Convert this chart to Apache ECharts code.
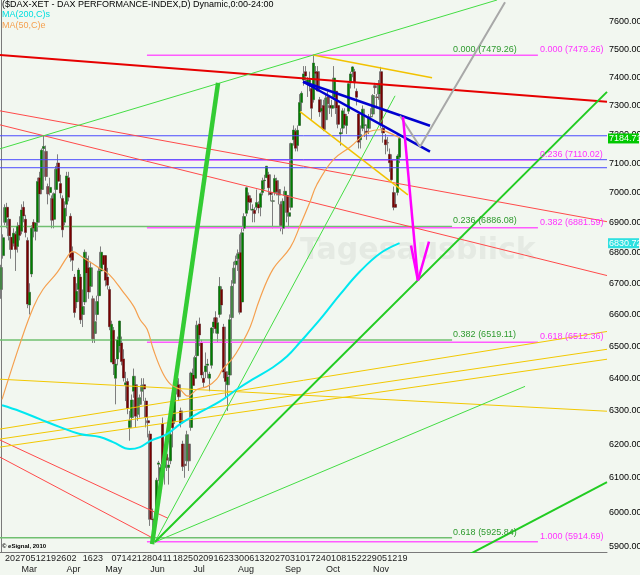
<!DOCTYPE html>
<html><head><meta charset="utf-8">
<script src="https://cdn.jsdelivr.net/npm/echarts@6/dist/echarts.min.js"></script>
<style>html,body{margin:0;padding:0;background:#F2F7F0;}#c{width:640px;height:575px;}</style>
</head><body><div id="c"></div>
<script>
// ---------- categories (trading days) ----------
const holidays = ['2012-04-06','2012-04-09','2012-05-01'];
const futureSlots = 101;
function buildDates(){
  const out=[]; let d=new Date(Date.UTC(2012,1,16)); const end=new Date(Date.UTC(2012,10,20));
  const fmt=x=>x.toISOString().slice(0,10);
  while(d<=end){const wd=d.getUTCDay(),s=fmt(d); if(wd!==0&&wd!==6&&!holidays.includes(s)) out.push(s); d=new Date(d.getTime()+86400000);}
  let n=0; while(n<futureSlots){const wd=d.getUTCDay(); if(wd!==0&&wd!==6){out.push(fmt(d));n++;} d=new Date(d.getTime()+86400000);}
  return out;
}
const dates = buildDates();

// ---------- tick labels ----------
const dayTicks = ['2012-02-20','2012-02-27','2012-03-05','2012-03-12','2012-03-19','2012-03-26','2012-04-02','2012-04-16','2012-04-23','2012-05-07','2012-05-14','2012-05-21','2012-05-28','2012-06-04','2012-06-11','2012-06-18','2012-06-25','2012-07-02','2012-07-09','2012-07-16','2012-07-23','2012-07-30','2012-08-06','2012-08-13','2012-08-20','2012-08-27','2012-09-03','2012-09-10','2012-09-17','2012-09-24','2012-10-01','2012-10-08','2012-10-15','2012-10-22','2012-10-29','2012-11-05','2012-11-12','2012-11-19'];
const monthTicks = [['2012-03-01','Mar'],['2012-04-02','Apr'],['2012-05-02','May'],['2012-06-01','Jun'],['2012-07-02','Jul'],['2012-08-01','Aug'],['2012-09-03','Sep'],['2012-10-01','Oct'],['2012-11-01','Nov']];
const priceTicks = [5900,6000,6100,6200,6300,6400,6500,6600,6700,6800,6900,7000,7100,7200,7300,7400,7500,7600];

// ---------- daily OHLC: [open, high, low, close] ----------
const ohlc = [
[6680,6760,6650,6751],[6790,6860,6780,6849],[6900,6960,6890,6949],[6950,6965,6880,6917],[6910,6915,6840,6855],
[6850,6870,6780,6810],[6830,6880,6820,6864],[6860,6870,6740,6810],[6820,6900,6800,6887],[6890,6920,6840,6856],
[6870,6960,6860,6941],[6950,6970,6900,6921],[6910,6925,6850,6866],[6840,6850,6620,6633],[6630,6700,6600,6671],
[6730,6890,6720,6880],[6900,6910,6850,6880],[6870,6900,6840,6898],[6900,7050,6890,7037],[7050,7070,6970,6995],
[7010,7150,7000,7144],[7150,7194,7120,7157],[7140,7160,7040,7054],[7020,7030,6960,6995],[7000,7050,6990,7017],
[6980,6990,6880,6907],[6910,7000,6880,6996],[7010,7090,6990,7079],[7100,7130,7030,7038],[7030,7060,6980,6998],
[6980,6990,6850,6875],[6900,6970,6890,6947],[6960,7070,6920,7056],[7050,7070,6970,6984],[6920,6930,6770,6784],
[6800,6820,6740,6775],[6720,6730,6590,6606],[6640,6700,6620,6674],[6680,6750,6640,6743],[6720,6730,6570,6583],
[6600,6680,6560,6625],[6640,6810,6630,6801],[6780,6800,6710,6733],[6750,6790,6650,6672],[6690,6770,6680,6750],
[6650,6660,6510,6523],[6540,6600,6510,6577],[6600,6660,6580,6641],[6660,6750,6640,6740],[6740,6820,6720,6801],
[6790,6800,6740,6761],[6790,6790,6690,6710],[6720,6750,6680,6694],[6680,6690,6550,6561],[6450,6580,6450,6569],
[6550,6560,6410,6444],[6400,6460,6320,6444],[6460,6530,6440,6519],[6500,6580,6480,6579],[6510,6530,6440,6452],
[6460,6490,6390,6401],[6380,6420,6330,6386],[6390,6400,6290,6308],[6250,6300,6210,6271],[6280,6350,6250,6333],
[6360,6430,6340,6406],[6380,6390,6250,6284],[6290,6350,6270,6339],[6320,6350,6280,6340],[6360,6400,6340,6378],
[6380,6400,6330,6367],[6330,6340,6250,6281],[6270,6300,6220,6264],[6230,6240,5960,5979],[5980,6010,5914,5978],
[5980,6000,5930,5969],[5980,6100,5980,6093],[6140,6150,6090,6144],[6080,6140,6060,6130],[6260,6280,6120,6141],
[6130,6180,6080,6162],[6170,6200,6120,6152],[6130,6160,6080,6138],[6150,6240,6140,6229],[6300,6310,6190,6249],
[6270,6370,6260,6363],[6370,6410,6350,6392],[6380,6400,6330,6343],[6300,6310,6250,6263],[6200,6210,6120,6133],
[6140,6160,6100,6136],[6150,6240,6140,6228],[6200,6210,6120,6150],[6250,6420,6240,6416],[6410,6430,6360,6378],
[6400,6470,6390,6464],[6470,6580,6460,6566],[6570,6590,6500,6535],[6510,6520,6400,6410],[6400,6420,6370,6387],
[6420,6480,6400,6438],[6440,6460,6400,6444],[6400,6420,6360,6413],[6440,6560,6430,6557],[6560,6590,6540,6576],
[6590,6610,6540,6555],[6540,6590,6510,6574],[6600,6720,6590,6690],[6680,6690,6600,6630],[6560,6570,6400,6419],
[6420,6440,6340,6390],[6380,6420,6300,6404],[6410,6600,6400,6583],[6590,6710,6580,6690],[6700,6770,6690,6749],
[6760,6790,6740,6772],[6780,6810,6740,6796],[6800,6860,6600,6607],[6640,6880,6620,6865],[6880,6930,6870,6919],
[6930,7020,6920,7016],[6990,7000,6940,6967],[6980,6990,6940,6967],[6940,6960,6900,6944],[6940,6950,6900,6929],
[6950,7010,6940,6966],[6960,6970,6930,6948],[6950,7000,6920,6996],[7000,7050,6990,7040],[7040,7060,7010,7042],
[7050,7090,7050,7089],[7060,7070,6990,7016],[7000,7020,6970,6993],[6970,6990,6880,6972],[7000,7060,6990,7047],
[7040,7050,6990,7002],[7010,7020,6960,6991],[6960,6970,6870,6889],[6880,6980,6860,6970],[6990,7020,6960,7004],
[6990,7000,6900,6933],[6920,6960,6880,6932],[6950,7170,6940,7167],[7180,7230,7160,7214],[7210,7220,7140,7151],
[7160,7230,7140,7213],[7230,7340,7230,7310],[7310,7350,7280,7343],[7390,7440,7370,7412],[7420,7440,7380,7404],
[7380,7400,7330,7390],[7380,7420,7350,7390],[7360,7370,7250,7290],[7320,7479,7310,7451],[7420,7440,7370,7413],
[7420,7440,7350,7351],[7320,7330,7260,7277],[7280,7310,7220,7290],[7300,7320,7210,7216],[7250,7340,7240,7326],
[7330,7350,7280,7306],[7300,7330,7270,7292],[7290,7320,7260,7300],[7330,7440,7320,7397],[7350,7360,7270,7291],
[7300,7330,7220,7234],[7200,7220,7160,7205],[7220,7290,7200,7281],[7270,7290,7220,7232],[7230,7270,7200,7262],
[7280,7380,7270,7377],[7380,7420,7360,7412],[7420,7440,7400,7437],[7420,7430,7360,7380],[7350,7360,7300,7329],
[7270,7280,7150,7172],[7180,7230,7150,7198],[7220,7300,7210,7287],[7230,7260,7190,7232],[7210,7230,7180,7205],
[7220,7270,7200,7256],[7260,7290,7240,7261],[7270,7340,7260,7335],[7370,7380,7340,7363],[7330,7340,7290,7328],
[7340,7390,7320,7377],[7420,7437,7220,7232],[7220,7240,7170,7204],[7180,7200,7130,7163],[7170,7190,7140,7169],
[7130,7150,7070,7101],[7110,7130,7040,7043],[7000,7020,6940,6950],[6960,7000,6950,6950],[7000,7130,6990,7124],
[7120,7190,7100,7184.71]
];

// ---------- moving averages: [slot index, value] ----------
const ma200 = [[0.5,6317],[9.3,6299],[19,6275],[28.9,6251],[38.6,6230],[48.4,6221],[54.8,6206],[63.1,6185],[68,6191],[72.9,6209],[81.2,6230],[87.6,6260],[97.4,6296],[107.1,6329],[115.5,6366],[123.3,6397],[133.1,6434],[140,6468],[146.3,6512],[156.1,6584],[165.9,6664],[175.6,6738],[185.4,6797],[195,6831]];
const ma50 = [[0.5,6335],[10,6521],[16,6625],[20.5,6680],[27.5,6735],[32.5,6787],[35,6803],[40,6784],[47,6754],[53,6728],[60,6670],[65,6625],[68,6584],[71.5,6553],[74.5,6490],[79,6418],[83,6381],[87.5,6366],[91.5,6345],[96,6366],[101,6375],[105.5,6397],[108.5,6428],[113,6459],[117,6499],[122,6562],[126.5,6648],[133,6745],[141.5,6816],[146.5,6892],[151,6965],[154.5,7026],[162.5,7111],[171,7156],[179,7204],[185.5,7215],[190,7204],[195,7187]];

// ---------- drawn objects: [slot index, price] ----------
const redThick   = [[-0.5,7480],[296.5,7313]];
const redThinA   = [[-0.5,7281],[296.5,6902]];
const redThinB   = [[-0.5,7232],[296.5,6725]];
const redLowC    = [[-0.5,6212],[81.7,5982]];
const redLowD    = [[-0.5,6161],[75.3,5922]];
const greenTop   = [[-0.5,7149],[242.7,7681]];
const greenMain  = [[75.3,5914],[296.5,7348]];
const greenSteep = [[73.9,5908],[106.2,7380]];
const greenFanA  = [[75.3,5914],[192.8,7334]];
const greenFanC  = [[75.3,5914],[256.4,6375]];
const greenLow   = [[224.6,5865],[296.5,6087]];
const blueUpper  = [[147.8,7384],[209.9,7229]];
const blueLower  = [[147.8,7384],[209.9,7139]];
const blueLevels = [7194, 7111.5, 7084];
const yellowTop  = [[152.6,7480],[210.9,7398]];
const yellowBot  = [[146.3,7278],[199.1,6992]];
const yellowFan1 = [[-0.5,6245],[296.5,6546]];
const yellowFan2 = [[-0.5,6215],[296.5,6490]];
const yellowFan3 = [[-0.5,6191],[296.5,6459]];
const yellowFlat = [[-0.5,6397],[296.5,6299]];
const greyPath   = [[195.2,7264],[205,7156],[246.6,7673]];
const pinkArrow  = [[196.7,7260],[204,6709]];
const pinkHead   = [[200.6,6823],[204,6709],[209.4,6836]];

// ---------- Fibonacci levels ----------
const fibGreen   = [['0.000',7479.26],['0.236',6886.08],['0.382',6519.11],['0.618',5925.84]];
const fibMagenta = [['0.000',7479.26],['0.236',7110.02],['0.382',6881.59],['0.618',6512.36],['1.000',5914.69]];

// ---------- price markers ----------
const lastPrice = 7184.71;
const ma200Last = 6830.72;

// =====================================================
const N = dates.length;
const FONT = '"Liberation Sans", Arial, sans-serif';
const dayLabelSet = new Set(dayTicks);
const monthMap = Object.fromEntries(monthTicks);

function seg(data, color, width, z){
  return {type:'line', xAxisIndex:1, yAxisIndex:0, data, symbol:'none', silent:true, animation:false,
    lineStyle:{color, width}, z: z||4};
}
const series = [];
// candles: grey shadow/wick, then colored body
const cData = ohlc.map(r=>[r[0], r[3], r[2], r[1]]);
series.push({type:'candlestick', xAxisIndex:0, yAxisIndex:0, data:cData, barWidth:3, silent:true, z:2,
  itemStyle:{color:'#8c8c8c', color0:'#8c8c8c', borderColor:'#7e7e7e', borderColor0:'#7e7e7e', borderWidth:1}});
series.push({type:'candlestick', xAxisIndex:0, yAxisIndex:0, data:cData, barWidth:2.4, silent:true, z:3,
  itemStyle:{color:'#007f00', color0:'#7a0000', borderColor:'rgba(0,0,0,0)', borderColor0:'rgba(0,0,0,0)', borderWidth:0}});

// fib lines
const fibG0 = -0.5, fibG1 = 220.7, fibM0 = 71.4, fibM1 = 262.7;
fibGreen.slice(1).forEach(f=>series.push(seg([[fibG0,f[1]],[fibG1,f[1]]], '#70c070', 1.5, 3)));
fibMagenta.forEach(f=>series.push(seg([[fibM0,f[1]],[fibM1,f[1]]], '#ff5cff', 1.5, 3)));
// blue horizontals
blueLevels.forEach(v=>series.push(seg([[-0.5,v],[296.5,v]], '#4a4aff', 1, 4)));
// trend lines
series.push(seg(redThinA,'#ff4a4a',1));
series.push(seg(redThinB,'#ff4a4a',1));
series.push(seg(redLowC,'#ff4a4a',1));
series.push(seg(redLowD,'#ff4a4a',1));
series.push(seg(redThick,'#e60000',2));
series.push(seg(yellowFan1,'#f2c800',1));
series.push(seg(yellowFan2,'#f2c800',1));
series.push(seg(yellowFan3,'#f2c800',1));
series.push(seg(yellowFlat,'#f2c800',1));
series.push(seg(yellowTop,'#f2c200',1.5));
series.push(seg(yellowBot,'#f2c200',1.5));
series.push(seg(greenTop,'#44dd44',1));
series.push(seg(greenFanA,'#44dd44',1));
series.push(seg(greenFanC,'#44dd44',1));
series.push(seg(greenLow,'#22cc22',2));
series.push(seg(greenMain,'#22cc22',2));
series.push(seg(greenSteep,'#33cc33',4.5));
// moving averages
series.push(Object.assign(seg(ma50,'#f5a04f',1.2,5),{smooth:0.4}));
series.push(Object.assign(seg(ma200,'#00e8f0',2,5),{smooth:0.4}));
// flag lines and projections
series.push(seg(blueUpper,'#0000d0',2.5,6));
series.push(seg(blueLower,'#0000d0',2.5,6));
series.push(seg(greyPath,'#a8a8a8',2,6));
series.push(seg(pinkArrow,'#ff00ff',2.5,7));
series.push(seg(pinkHead,'#ff00ff',2.5,7));

// fib labels
function fibLabelSeries(list, xIdx, color){
  return {type:'custom', xAxisIndex:1, yAxisIndex:0, silent:true, clip:false, z:8, animation:false,
    data:list.map(f=>[xIdx,f[1]]),
    renderItem:(params, api)=>{
      const f = list[params.dataIndex];
      const p = api.coord([api.value(0), api.value(1)]);
      return {type:'text', x:p[0], y:p[1]-1, style:{text:f[0]+' ('+f[1].toFixed(2)+')', fill:color, font:'9px '+FONT, align:'left', verticalAlign:'bottom'}};
    }};
}
series.push(fibLabelSeries(fibGreen, 221.2, '#2f9a2f'));
series.push(fibLabelSeries(fibMagenta, 263.7, '#ff33ff'));

// right axis labels
series.push({type:'custom', xAxisIndex:1, yAxisIndex:0, silent:true, clip:false, z:8, animation:false,
  data:priceTicks.map(v=>[0,v]),
  renderItem:(params, api)=>{
    const cs = params.coordSys; const p = api.coord([0, api.value(1)]);
    return {type:'text', x:cs.x+cs.width+2, y:p[1], style:{text:api.value(1).toFixed(2), fill:'#000', font:'9px '+FONT, align:'left', verticalAlign:'middle'}};
  }});
// price markers
const markers = [[lastPrice,'#00c800'],[ma200Last,'#2ee0e0']];
series.push({type:'custom', xAxisIndex:1, yAxisIndex:0, silent:true, clip:false, z:9, animation:false,
  data:markers.map(m=>[0,m[0]]),
  renderItem:(params, api)=>{
    const cs = params.coordSys; const p = api.coord([0, api.value(1)]);
    const m = markers[params.dataIndex];
    return {type:'group', children:[
      {type:'rect', shape:{x:cs.x+cs.width+1, y:p[1]-5, width:31, height:10}, style:{fill:m[1]}},
      {type:'text', x:cs.x+cs.width+2, y:p[1], style:{text:m[0].toFixed(2), fill:'#fff', font:'9px '+FONT, align:'left', verticalAlign:'middle'}}
    ]};
  }});

const option = {
  animation:false,
  backgroundColor:'#F2F7F0',
  grid:{left:0, right:33, top:0, bottom:22, containLabel:false},
  xAxis:[
    {type:'category', data:dates, boundaryGap:true, gridIndex:0,
     axisLine:{show:true, lineStyle:{color:'#7a7a7a', width:1}}, axisTick:{show:false}, splitLine:{show:false},
     axisLabel:{show:true, interval:(i,v)=>dayLabelSet.has(v)||!!monthMap[v], margin:1,
       formatter:(v)=>{const d=dayLabelSet.has(v)?v.slice(8):''; const m=monthMap[v]; return m?(d+'\n'+m):d;},
       color:'#222', fontFamily:'Liberation Sans', fontSize:9, lineHeight:11, align:'left', hideOverlap:false}},
    {type:'value', min:-0.5, max:N-0.5, show:false, gridIndex:0}
  ],
  yAxis:[{type:'log', logBase:10, min:5885.5, max:7680.9, position:'right', gridIndex:0,
     axisLine:{show:true, lineStyle:{color:'#7a7a7a', width:1}}, axisTick:{show:false}, axisLabel:{show:false}, splitLine:{show:false}}],
  graphic:[
    {type:'text', left:300, top:236, z:1, silent:true, style:{text:'Tagesausblick', font:'bold 30px "DejaVu Sans", sans-serif', fill:'rgba(200,206,200,0.3)'}},
    {type:'text', left:2, top:0, z:10, style:{text:'($DAX-XET - DAX PERFORMANCE-INDEX,D) Dynamic,0:00-24:00', font:'9px '+FONT, fill:'#000'}},
    {type:'text', left:2, top:10, z:10, style:{text:'MA(200,C)s', font:'9px '+FONT, fill:'#00dede'}},
    {type:'text', left:2, top:21, z:10, style:{text:'MA(50,C)e', font:'9px '+FONT, fill:'#f5a04f'}},
    {type:'text', left:2, top:543, z:10, style:{text:'© eSignal, 2010', font:'bold 6px '+FONT, fill:'#000'}}
  ],
  series
};
const chart = echarts.init(document.getElementById('c'), null, {renderer:'canvas'});
chart.setOption(option);
</script></body></html>
